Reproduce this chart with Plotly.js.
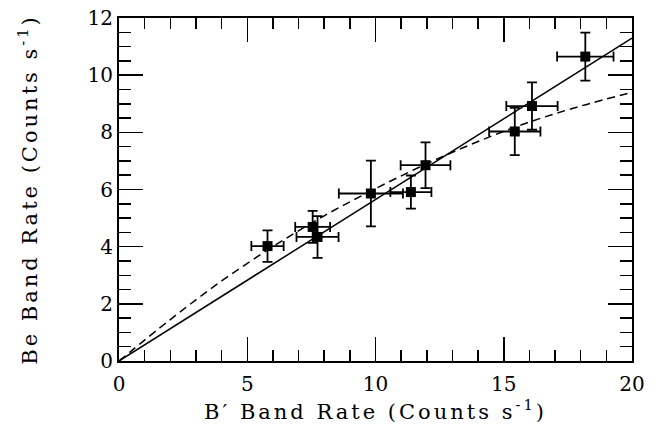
<!DOCTYPE html>
<html>
<head>
<meta charset="utf-8">
<script src="https://cdn.plot.ly/plotly-3.0.1.min.js"></script>
<style>
html,body{margin:0;padding:0;background:#fff;}
#chart{width:663px;height:438px;}
.xtitle, .ytitle {letter-spacing: 3px;}
</style>
</head>
<body>
<div id="chart"></div>
<script>
// Data points (B' band rate vs Be band rate)
const bRate   = [5.79, 7.55, 7.74, 9.82, 11.38, 11.95, 15.43, 16.10, 18.18];
const beRate  = [4.02, 4.69, 4.34, 5.86, 5.91, 6.85, 8.03, 8.92, 10.65];
const bErr    = [0.63, 0.68, 0.82, 1.25, 0.80, 0.97, 1.00, 1.00, 1.10];
const beErr   = [0.55, 0.56, 0.73, 1.15, 0.58, 0.80, 0.83, 0.83, 0.84];

// Solid linear fit
const linX = [0, 20];
const linY = [0, 11.30];

// Dashed curved fit
const curX = [0, 2, 4, 6, 8, 10, 12, 14, 16, 18, 20];
const curY = [0, 1.45, 2.80, 4.00, 5.08, 6.03, 6.90, 7.68, 8.36, 8.92, 9.40];

const xTickVals = [0, 5, 10, 15, 20];
const yTickVals = [0, 2, 4, 6, 8, 10, 12];

const font = {family: 'DejaVu Serif, Liberation Serif, serif', color: '#000'};

const traces = [
  {x: linX, y: linY, mode: 'lines', line: {color: '#000', width: 1.5}, hoverinfo: 'skip'},
  {x: curX, y: curY, mode: 'lines', line: {color: '#000', width: 1.5, dash: '8px,5px', shape: 'spline'}, hoverinfo: 'skip'},
  {x: bRate, y: beRate, mode: 'markers',
   marker: {symbol: 'square', size: 10, color: '#000'},
   error_x: {type: 'data', array: bErr, visible: true, color: '#000', thickness: 1.8, width: 5},
   error_y: {type: 'data', array: beErr, visible: true, color: '#000', thickness: 1.8, width: 5}}
];

const axisCommon = {
  showgrid: false, zeroline: false, showline: true, linecolor: '#000', linewidth: 2,
  mirror: 'allticks', ticks: 'inside', ticklen: 24, tickwidth: 1.5, tickcolor: '#000',
  tickfont: Object.assign({size: 20}, font)
};

const layout = {
  width: 663, height: 438,
  margin: {l: 119, r: 31, t: 18, b: 77},
  paper_bgcolor: '#fff', plot_bgcolor: '#fff',
  showlegend: false,
  xaxis: Object.assign({}, axisCommon, {
    range: [0, 20], tickvals: xTickVals, ticktext: xTickVals.map(String),
    ticklabelstandoff: 4,
    minor: {dtick: 1, ticks: 'inside', ticklen: 11, tickwidth: 1.5, tickcolor: '#000'},
    title: {text: "B\u2032 Band Rate (Counts s<sup>-1</sup>)", font: Object.assign({size: 21}, font), standoff: 6}
  }),
  yaxis: Object.assign({}, axisCommon, {
    range: [0, 12], tickvals: yTickVals, ticktext: yTickVals.map(String),
    minor: {dtick: 0.5, ticks: 'inside', ticklen: 12, tickwidth: 1.5, tickcolor: '#000'},
    title: {text: "Be Band Rate (Counts s<sup>-1</sup>)", font: Object.assign({size: 21}, font), standoff: 44}
  })
};

Plotly.newPlot('chart', traces, layout, {displayModeBar: false, staticPlot: true});
</script>
</body>
</html>
